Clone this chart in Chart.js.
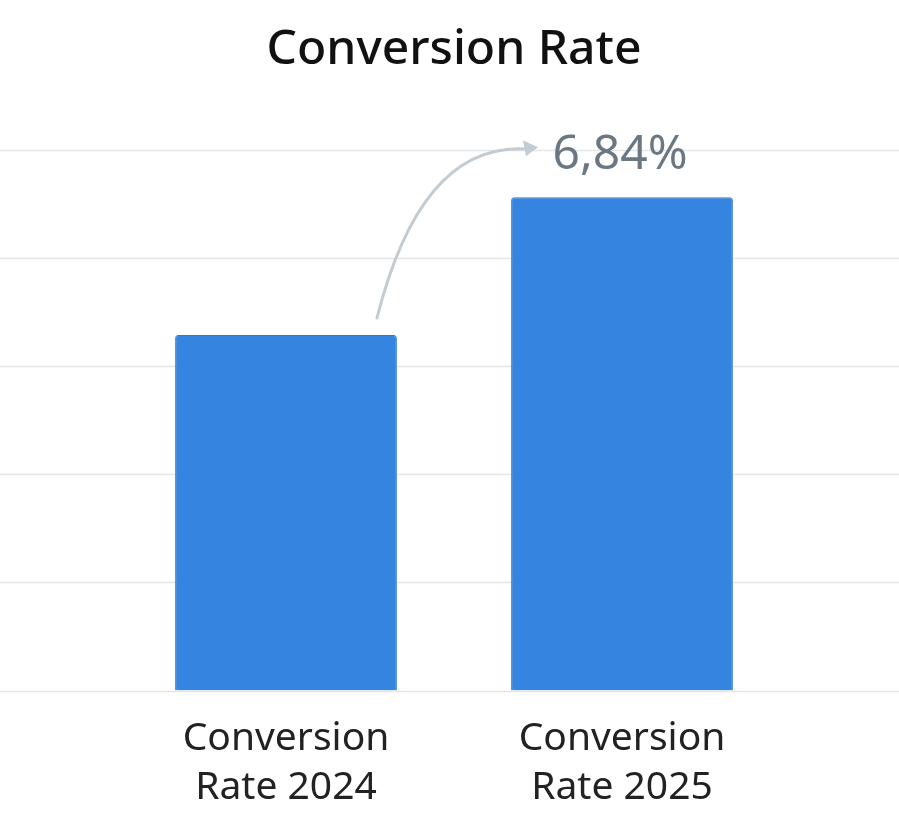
<!DOCTYPE html>
<html>
<head>
<meta charset="utf-8">
<script src="https://cdn.jsdelivr.net/npm/chart.js@4"></script>
<style>
  body { margin: 0; background: #fff; }
  #wrap { width: 899px; height: 828px; }
</style>
</head>
<body>
<div id="wrap"><canvas id="myChart"></canvas></div>
<script>
var categories = [["Conversion", "Rate 2024"], ["Conversion", "Rate 2025"]];
var rates = [4.93, 6.84];
var yTicks = [0, 1.5, 3, 4.5, 6, 7.5];
var highlightLabel = "6,84%";

// full-width grid lines + curved arrow and value label
var extras = {
  id: "extras",
  beforeDatasetsDraw: function(chart) {
    var ctx = chart.ctx, y = chart.scales.y;
    ctx.save();
    ctx.strokeStyle = "#e3e6e9";
    ctx.lineWidth = 1.5;
    yTicks.forEach(function(v) {
      var py = Math.round(y.getPixelForValue(v)) + 0.5;
      ctx.beginPath();
      ctx.moveTo(0, py);
      ctx.lineTo(chart.width, py);
      ctx.stroke();
    });
    ctx.restore();
  },
  afterDatasetsDraw: function(chart) {
    var ctx = chart.ctx;
    var bars = chart.getDatasetMeta(0).data;
    var b0 = bars[0], b1 = bars[1];
    var sx = b0.x + 91, sy = b0.y - 17;
    var ex = b1.x - 92, ey = b1.y - 48;
    ctx.save();
    ctx.strokeStyle = "#c3ccd3";
    ctx.lineWidth = 3;
    ctx.lineCap = "round";
    ctx.beginPath();
    ctx.moveTo(sx, sy);
    ctx.quadraticCurveTo(sx + 45, ey - 10, ex, ey);
    ctx.stroke();
    // arrow head
    ctx.fillStyle = "#c3ccd3";
    ctx.beginPath();
    ctx.moveTo(ex + 8, ey - 2);
    ctx.lineTo(ex - 7, ey - 9);
    ctx.lineTo(ex - 4, ey + 7);
    ctx.closePath();
    ctx.fill();
    ctx.fillStyle = "#6b7782";
    ctx.font = "48px 'Noto Sans', sans-serif";
    ctx.textAlign = "center";
    ctx.textBaseline = "middle";
    ctx.fillText(highlightLabel, b1.x - 2, ey + 6);
    ctx.restore();
  }
};

new Chart("myChart", {
  type: "bar",
  data: {
    labels: categories,
    datasets: [{
      data: rates,
      backgroundColor: "#3584e0",
      borderColor: "#2f78cf",
      borderWidth: 1,
      borderRadius: 3,
      borderSkipped: "bottom",
      categoryPercentage: 1,
      barPercentage: 0.66
    }]
  },
  options: {
    responsive: true,
    maintainAspectRatio: false,
    animation: false,
    layout: { padding: { left: 118, right: 109, bottom: 0 } },
    plugins: {
      legend: { display: false },
      tooltip: { enabled: false },
      title: {
        display: true,
        text: "Conversion Rate",
        color: "#111",
        font: { family: "'Noto Sans', sans-serif", size: 48, weight: "500" },
        padding: { top: 22, bottom: 70 }
      }
    },
    scales: {
      y: { display: false, min: 0, max: 7.5 },
      x: {
        grid: { display: false },
        border: { display: false },
        ticks: {
          color: "#222",
          padding: 16,
          font: { family: "'Noto Sans', sans-serif", size: 39, lineHeight: 1.25 }
        }
      }
    }
  },
  plugins: [extras]
});
</script>
</body>
</html>
